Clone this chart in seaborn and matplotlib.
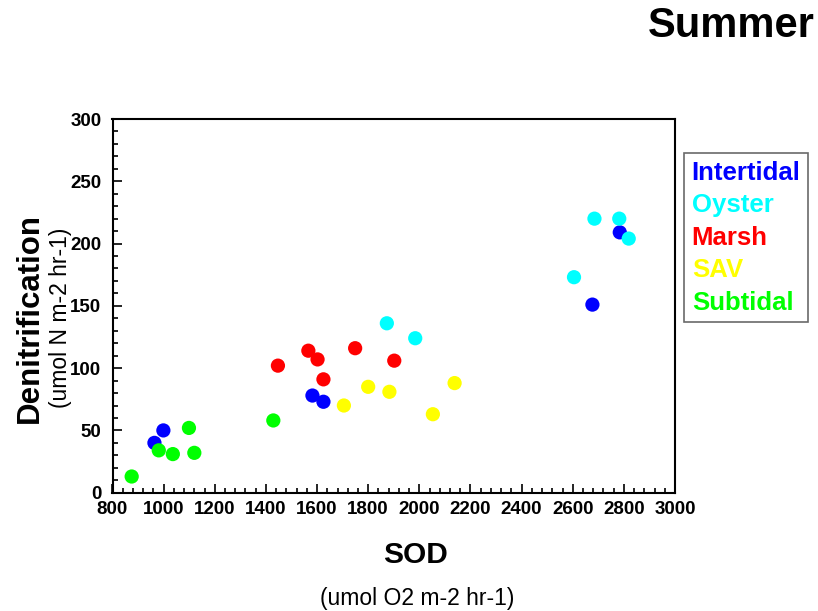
import pandas as pd
import numpy as np
import seaborn as sns
import matplotlib.pyplot as plt
from matplotlib.ticker import MultipleLocator

# summer SOD vs denitrification, by habitat
intertidal_sod = [964, 999, 1582, 1625, 2677, 2784]
intertidal_den = [40, 50, 78, 73, 151, 209]
oyster_sod = [1873, 1984, 2605, 2685, 2782, 2819]
oyster_den = [136, 124, 173, 220, 220, 204]
marsh_sod = [1447, 1566, 1602, 1625, 1749, 1902]
marsh_den = [102, 114, 107, 91, 116, 106]
sav_sod = [1705, 1800, 1883, 2053, 2138]
sav_den = [70, 85, 81, 63, 88]
subtidal_sod = [875, 981, 1036, 1099, 1120, 1429]
subtidal_den = [13, 34, 31, 52, 32, 58]

habitats = ["Intertidal", "Oyster", "Marsh", "SAV", "Subtidal"]
colors = ["#0000ff", "#00ffff", "#ff0000", "#ffff00", "#00ff00"]

frames = []
for name, xs, ys in zip(habitats,
                        [intertidal_sod, oyster_sod, marsh_sod, sav_sod, subtidal_sod],
                        [intertidal_den, oyster_den, marsh_den, sav_den, subtidal_den]):
    frames.append(pd.DataFrame({"SOD": xs, "Denit": ys, "Habitat": name}))
df = pd.concat(frames, ignore_index=True)

sns.set_style("white")
plt.rcParams['font.family'] = ['Liberation Sans', 'DejaVu Sans']
plt.rcParams['text.color'] = 'black'
plt.rcParams['xtick.color'] = 'black'
plt.rcParams['ytick.color'] = 'black'

fig = plt.figure(figsize=(8.18, 6.11), dpi=100)
ax = fig.add_axes([112.5 / 818, 1 - 492.7 / 611, (675 - 112.5) / 818, (492.7 - 119) / 611])

sns.scatterplot(data=df, x="SOD", y="Denit", hue="Habitat", hue_order=habitats,
                palette=dict(zip(habitats, colors)), s=105, edgecolor="none",
                alpha=1, ax=ax)

ax.set_xlim(800, 3000)
ax.set_ylim(0, 300)
ax.xaxis.set_major_locator(MultipleLocator(200))
ax.xaxis.set_minor_locator(MultipleLocator(40))
ax.yaxis.set_major_locator(MultipleLocator(50))
ax.yaxis.set_minor_locator(MultipleLocator(10))
ax.tick_params(which="both", direction="in", color="black", width=1.2,
               bottom=True, left=True, top=False, right=False)
ax.tick_params(which="major", length=6.5, labelsize=13.5)
ax.tick_params(which="minor", length=3.6)
ax.tick_params(axis="x", pad=6)
ax.tick_params(axis="y", pad=8)
for lab in ax.get_xticklabels() + ax.get_yticklabels():
    lab.set_fontweight("bold")
for sp in ax.spines.values():
    sp.set_color("black")
    sp.set_linewidth(1.5)
ax.set_xlabel("")
ax.set_ylabel("")

# axis titles
fig.text(415 / 818, 1 - 555 / 611, "SOD", ha="center", va="center",
         fontsize=21.5, fontweight="bold")
fig.text(417 / 818, 1 - 598 / 611, "(umol O2 m-2 hr-1)", ha="center", va="center",
         fontsize=16.5)
fig.text(30 / 818, 1 - 318 / 611, "Denitrification", ha="center", va="center",
         rotation=90, fontsize=22.5, fontweight="bold")
fig.text(60 / 818, 1 - 318 / 611, "(umol N m-2 hr-1)", ha="center", va="center",
         rotation=90, fontsize=16.5)
fig.text(731 / 818, 1 - 26 / 611, "Summer", ha="center", va="center",
         fontsize=30, fontweight="bold")

# legend: coloured labels only
leg = ax.legend(loc="upper left", bbox_to_anchor=(684 / 818, 1 - 153 / 611),
                bbox_transform=fig.transFigure, handlelength=0, handletextpad=0,
                prop={"size": 18.5, "weight": "bold"}, frameon=True, fancybox=False,
                edgecolor="#444444", borderpad=0.3, labelspacing=0.33,
                borderaxespad=0)
leg.get_frame().set_linewidth(1.2)
for h in leg.legend_handles:
    h.set_visible(False)
for t, c in zip(leg.get_texts(), colors):
    t.set_color(c)

fig.savefig("out.png", dpi=100)
